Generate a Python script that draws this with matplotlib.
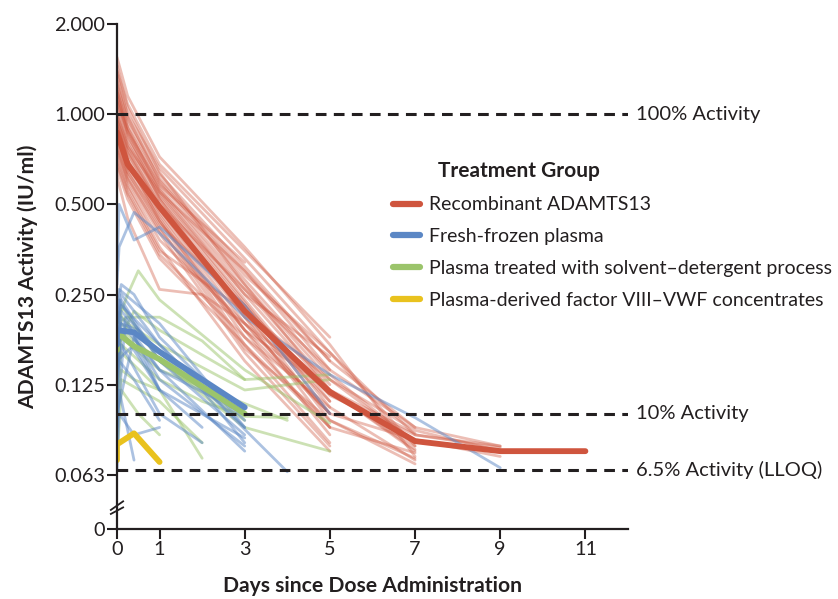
import numpy as np
import matplotlib
matplotlib.use("Agg")
import matplotlib.pyplot as plt
from matplotlib.transforms import blended_transform_factory

plt.rcParams['font.family'] = ['Lato', 'DejaVu Sans']

# ---- data ----
red_times = [
    [0, 0.25, 1, 3, 5, 7],
    [0, 0.25, 1, 3, 5],
    [0, 0.25, 1, 3, 5, 7, 9],
    [0, 0.25, 1, 3, 5, 7],
    [0, 0.25, 1, 3, 5],
    [0, 0.25, 1, 3, 5, 7],
    [0, 0.25, 1, 3, 5, 7, 9],
    [0, 0.25, 1, 3, 5],
    [0, 0.25, 1, 3, 5, 7],
    [0, 0.25, 1, 3, 5],
    [0, 0.25, 1, 3, 5, 7],
    [0, 0.25, 1, 3, 5],
    [0, 0.25, 1, 3, 5, 7],
    [0, 0.25, 1, 3, 5],
    [0, 0.25, 1, 3, 5, 7, 9],
    [0, 0.25, 1, 3, 5],
    [0, 0.25, 1, 3, 5, 7],
    [0, 0.25, 1, 3, 5],
    [0, 0.25, 1, 2, 3, 5],
    [0, 0.25, 1, 3, 5, 7],
    [0, 0.25, 1, 3, 5],
    [0, 0.25, 1, 3, 5, 7],
    [0, 0.25, 1, 3, 5],
    [0, 0.25, 1, 3, 5, 7],
    [0, 0.25, 1, 3, 5],
    [0, 0.25, 1, 3, 5, 7],
    [0, 0.25, 1, 3, 5],
    [0, 0.25, 1, 3, 5, 7, 9],
    [0, 0.25, 1, 3, 5],
    [0, 0.25, 1, 3],
    [0, 0.25, 1, 3, 5, 7],
    [0, 0.25, 1, 3, 5],
    [0, 0.25, 1, 3, 5, 7],
    [0, 0.25, 1, 3, 5],
    [0, 0.25, 1, 3, 5, 7, 9],
    [0, 0.25, 1, 3, 5],
]
red_values = [
    [1.55, 1.15, 0.72, 0.36, 0.17, 0.072],
    [1.40, 1.08, 0.68, 0.35, 0.18],
    [1.30, 1.00, 0.66, 0.33, 0.16, 0.085, 0.077],
    [1.25, 0.96, 0.63, 0.31, 0.15, 0.090],
    [1.20, 0.93, 0.61, 0.30, 0.14],
    [1.15, 0.90, 0.59, 0.28, 0.135, 0.080],
    [1.12, 0.87, 0.57, 0.27, 0.13, 0.088, 0.075],
    [1.08, 0.84, 0.56, 0.26, 0.125],
    [1.05, 0.82, 0.54, 0.25, 0.12, 0.075],
    [1.00, 0.80, 0.53, 0.24, 0.11],
    [0.98, 0.78, 0.52, 0.235, 0.105, 0.070],
    [0.95, 0.76, 0.50, 0.23, 0.10],
    [0.92, 0.74, 0.49, 0.22, 0.095, 0.068],
    [0.90, 0.72, 0.48, 0.21, 0.09],
    [0.88, 0.70, 0.47, 0.20, 0.10, 0.082, 0.072],
    [0.86, 0.68, 0.46, 0.19, 0.085],
    [0.84, 0.66, 0.45, 0.18, 0.09, 0.074],
    [0.82, 0.64, 0.44, 0.17, 0.08],
    [0.62, 0.45, 0.26, 0.25, 0.20, 0.10],
    [0.80, 0.62, 0.42, 0.165, 0.095, 0.071],
    [0.78, 0.60, 0.40, 0.16, 0.078],
    [0.75, 0.58, 0.38, 0.20, 0.12, 0.078],
    [0.72, 0.57, 0.36, 0.15, 0.075],
    [0.70, 0.55, 0.35, 0.22, 0.13, 0.080],
    [0.68, 0.54, 0.34, 0.18, 0.105],
    [1.35, 0.98, 0.60, 0.29, 0.16, 0.078],
    [1.00, 0.78, 0.55, 0.30, 0.15],
    [0.95, 0.75, 0.50, 0.26, 0.14, 0.090, 0.078],
    [0.66, 0.52, 0.33, 0.17, 0.09],
    [1.10, 0.88, 0.58, 0.32],
    [1.45, 1.05, 0.64, 0.27, 0.12, 0.076],
    [1.18, 0.86, 0.52, 0.21, 0.11],
    [0.93, 0.70, 0.44, 0.19, 0.12, 0.086],
    [1.22, 0.90, 0.55, 0.25, 0.155],
    [0.85, 0.64, 0.43, 0.23, 0.115, 0.085, 0.078],
    [0.76, 0.61, 0.41, 0.19, 0.10],
]

blue_times = [
    [0, 0.05, 0.4, 1, 3, 5],
    [0, 0.05, 0.4, 1, 3, 5, 7, 9],
    [0, 0.1, 0.4, 1, 3],
    [0, 0.1, 0.4, 1, 3],
    [0, 0.1, 1, 3],
    [0, 0.1, 1, 2, 3],
    [0, 0.1, 1, 3],
    [0, 0.2, 1],
    [0, 0.1, 1, 2],
    [0, 0.4, 1, 3],
    [0, 0.1, 1, 4],
    [0, 0.05, 0.4, 1],
    [0, 0.05, 0.4, 1, 3],
    [0, 0.1, 0.5, 1, 3],
    [0, 0.05, 1, 3],
    [0, 0.1, 1, 2],
    [0, 0.05, 0.4, 1],
    [0, 0.1, 1, 3],
    [0, 0.4, 1, 3],
    [0, 0.05, 0.4],
]
blue_values = [
    [0.30, 0.50, 0.38, 0.42, 0.23, 0.10],
    [0.27, 0.36, 0.47, 0.40, 0.21, 0.135, 0.097, 0.066],
    [0.22, 0.27, 0.25, 0.18, 0.095],
    [0.20, 0.25, 0.22, 0.17, 0.090],
    [0.18, 0.24, 0.15, 0.085],
    [0.15, 0.22, 0.16, 0.12, 0.080],
    [0.12, 0.20, 0.14, 0.075],
    [0.09, 0.21, 0.12],
    [0.14, 0.19, 0.12, 0.090],
    [0.10, 0.18, 0.13, 0.078],
    [0.20, 0.23, 0.17, 0.064],
    [0.065, 0.10, 0.085, 0.09],
    [0.16, 0.24, 0.20, 0.15, 0.10],
    [0.19, 0.20, 0.19, 0.16, 0.105],
    [0.24, 0.26, 0.20, 0.09],
    [0.13, 0.17, 0.10, 0.08],
    [0.11, 0.15, 0.13, 0.095],
    [0.17, 0.21, 0.14, 0.10],
    [0.15, 0.17, 0.12, 0.083],
    [0.08, 0.12, 0.07],
]

green_times = [
    [0, 0.25, 0.5, 1, 3, 5],
    [0, 0.25, 1, 2, 3],
    [0, 0.4, 1, 3, 5],
    [0, 0.1, 1, 3, 5],
    [0, 0.1, 1, 2],
    [0, 0.1, 1, 3],
    [0, 0.1, 1, 4],
    [0, 0.1, 0.4, 1],
    [0, 0.1, 1, 3],
    [0, 0.25, 1, 3, 5],
    [0, 0.1, 1, 2],
    [0, 0.1, 0.5, 1],
    [0, 0.1, 1, 2, 3, 4],
]
green_values = [
    [0.20, 0.25, 0.30, 0.24, 0.14, 0.093],
    [0.20, 0.21, 0.21, 0.175, 0.13],
    [0.17, 0.22, 0.19, 0.13, 0.135],
    [0.13, 0.19, 0.15, 0.09, 0.075],
    [0.12, 0.16, 0.12, 0.071],
    [0.16, 0.20, 0.16, 0.10],
    [0.15, 0.18, 0.14, 0.095],
    [0.12, 0.14, 0.13, 0.12],
    [0.18, 0.23, 0.15, 0.095],
    [0.22, 0.20, 0.17, 0.12, 0.13],
    [0.10, 0.13, 0.11, 0.08],
    [0.07, 0.12, 0.10, 0.085],
    [0.14, 0.17, 0.13, 0.11, 0.098, 0.097],
]

# group means (thick lines)
red_mean_t = [0, 0.25, 1, 3, 5, 7, 9, 11]
red_mean_v = [0.87, 0.68, 0.49, 0.22, 0.118, 0.081, 0.075, 0.075]
blue_mean_t = [0, 0, 0.4, 1, 3]
blue_mean_v = [0.17, 0.19, 0.187, 0.161, 0.105]
green_mean_t = [0, 0, 0.4, 1, 3]
green_mean_v = [0.163, 0.187, 0.168, 0.152, 0.10]
yellow_t = [0, 0, 0.4, 1]
yellow_v = [0.070, 0.079, 0.086, 0.069]

ref_levels = [1.0, 0.10, 0.065]
ref_labels = ["100% Activity", "10% Activity", "6.5% Activity (LLOQ)"]

y_ticks = [0, 0.0625, 0.125, 0.25, 0.5, 1.0, 2.0]
y_ticklabels = ["0", "0.063", "0.125", "0.250", "0.500", "1.000", "2.000"]
x_ticks = [0, 1, 3, 5, 7, 9, 11]

groups = ["Recombinant ADAMTS13", "Fresh-frozen plasma",
          "Plasma treated with solvent\u2013detergent process",
          "Plasma-derived factor VIII\u2013VWF concentrates"]
colors = ["#cf553e", "#5b87c5", "#9bc46b", "#e9c21e"]
ink = '#231f20'

# log2 scale with a short linear stretch down to 0 (broken axis)
CUT = 0.05
SLOPE = 5.56


def fwd(y):
    y = np.asarray(y, dtype=float)
    return np.where(y >= CUT, np.log2(np.maximum(y, CUT)), np.log2(CUT) - (CUT - y) * SLOPE)


def inv(z):
    z = np.asarray(z, dtype=float)
    return np.where(z >= np.log2(CUT), 2.0 ** z, CUT - (np.log2(CUT) - z) / SLOPE)


fig = plt.figure(figsize=(8.38, 5.99), dpi=100)
ax = fig.add_axes([0.1396, 0.1169, 0.6098, 0.8431])
ax.set_yscale('function', functions=(fwd, inv))

for t, v in zip(red_times, red_values):
    ax.plot(t, v, color=colors[0], lw=2.0, alpha=0.38, solid_capstyle='round')
for t, v in zip(green_times, green_values):
    ax.plot(t, v, color=colors[2], lw=2.0, alpha=0.5, solid_capstyle='round')
for t, v in zip(blue_times, blue_values):
    ax.plot(t, v, color=colors[1], lw=2.0, alpha=0.5, solid_capstyle='round')

ax.plot(red_mean_t, red_mean_v, color=colors[0], lw=4.2, solid_capstyle='round')
ax.plot(green_mean_t, green_mean_v, color=colors[2], lw=4.2, solid_capstyle='round')
ax.plot(blue_mean_t, blue_mean_v, color=colors[1], lw=4.2, solid_capstyle='round')
ax.plot(yellow_t, yellow_v, color=colors[3], lw=4.2, solid_capstyle='round')

for lvl, lab in zip(ref_levels, ref_labels):
    ax.axhline(lvl, color=ink, lw=2.2, ls=(0, (3.5, 2.4)), zorder=5)
    ax.text(12.18, lvl, lab, fontsize=14.5, va='center', ha='left', color=ink, clip_on=False)

ax.set_xlim(0, 12)
ax.set_ylim(0, 2.0)
ax.set_xticks(x_ticks)
ax.set_yticks(y_ticks)
ax.set_yticklabels(y_ticklabels)
ax.minorticks_off()
for s in ['top', 'right']:
    ax.spines[s].set_visible(False)
for s in ['left', 'bottom']:
    ax.spines[s].set_linewidth(1.6)
    ax.spines[s].set_color(ink)
ax.tick_params(length=7, width=1.5, labelsize=14.3, colors=ink, pad=1.5)

# axis break marks
tr = blended_transform_factory(ax.transAxes, ax.transData)
for y0, y1 in [(0.030, 0.043), (0.038, 0.051)]:
    ax.plot([-0.012, 0.012], [y0, y1], transform=tr, color=ink, lw=1.3, clip_on=False)

ax.set_xlabel("Days since Dose Administration", fontsize=15.2, fontweight='bold', color=ink)
ax.xaxis.set_label_coords(0.5, -0.093)
ax.set_ylabel("ADAMTS13 Activity (IU/ml)", fontsize=15.2, fontweight='bold', color=ink)
ax.yaxis.set_label_coords(-0.155, 0.5)

# legend
handles = [plt.Line2D([], [], color=c, lw=4.5, solid_capstyle='round') for c in colors]
fig.legend(handles, groups, loc='upper left', bbox_to_anchor=(0.469, 0.672), frameon=False,
           fontsize=14.0, handlelength=1.37, handletextpad=0.47, labelspacing=0.76, borderpad=0,
           borderaxespad=0, labelcolor=ink)
fig.text(438 / 838, 1 - 171 / 599, "Treatment Group", fontsize=15, fontweight='bold',
         va='center', ha='left', color=ink)

fig.savefig("out.png", dpi=100)
